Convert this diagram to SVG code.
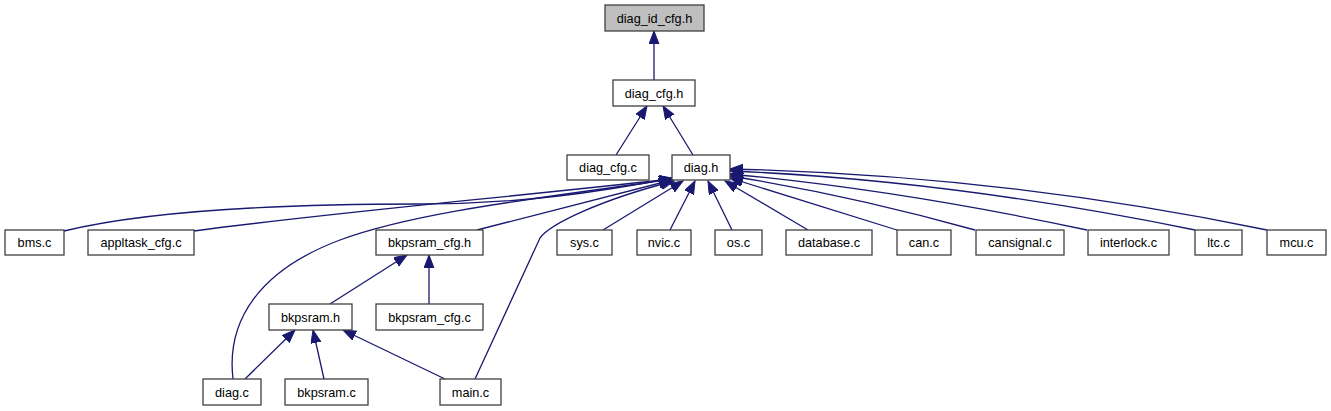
<svg xmlns="http://www.w3.org/2000/svg" width="1331" height="411" viewBox="0 0 1331 411">
<style>
.node rect{fill:#ffffff;stroke:#404040;stroke-width:1.3}
.node.root rect{fill:#bfbfbf}
.node text{font-family:"Liberation Sans",Arial,sans-serif;font-size:12.7px;fill:#000000;text-anchor:middle}
.edges path{fill:none;stroke:#191970;stroke-width:1.3;marker-end:url(#ah)}
</style>
<defs>
<marker id="ah" markerUnits="userSpaceOnUse" markerWidth="14" markerHeight="11" refX="13" refY="5" orient="auto">
<path d="M0,0 L13,5 L0,10 z" fill="#191970" stroke="#191970" stroke-width="1"/>
</marker>
</defs>
<rect width="1331" height="411" fill="#ffffff"/>
<g class="edges" id="edges">
<path d="M654,80 L654,31"/>
<path d="M616,155 L647,106"/>
<path d="M693,155 L663,106"/>
<path d="M64,231 C150,210 280,204 420,204 C520,204 600,192 672,178"/>
<path d="M194,231 C320,214 480,200 672,179"/>
<path d="M477,230 L672,180"/>
<path d="M233,379 C226,320 260,270 340,240 C420,210 560,196 672,179"/>
<path d="M475,379 L540,238 C550,224 600,200 674,181"/>
<path d="M603,230 L683,181"/>
<path d="M670,230 L695,181"/>
<path d="M732,230 L708,181"/>
<path d="M808,230 L725,181"/>
<path d="M897,230 L730,178"/>
<path d="M975,230 Q850,195 730,176"/>
<path d="M1087,230 Q900,190 730,174"/>
<path d="M1195,230 Q950,180 730,171"/>
<path d="M1267,230 Q1000,175 730,169"/>
<path d="M330,304 L407,255"/>
<path d="M429,304 L429,255"/>
<path d="M245,379 L295,330"/>
<path d="M324,379 L313,330"/>
<path d="M445,379 L343,330"/>
</g>
<g class="node root" id="diag_id_cfg_h"><rect x="605" y="5" width="99" height="26"/><text x="654.5" y="22.5">diag_id_cfg.h</text></g>
<g class="node" id="diag_cfg_h"><rect x="613" y="80" width="82" height="26"/><text x="654" y="97.5">diag_cfg.h</text></g>
<g class="node" id="diag_cfg_c"><rect x="567" y="155" width="82" height="25"/><text x="608" y="172">diag_cfg.c</text></g>
<g class="node" id="diag_h"><rect x="672" y="155" width="58" height="25"/><text x="701" y="172">diag.h</text></g>
<g class="node" id="bms_c"><rect x="5" y="230" width="59" height="25"/><text x="34.5" y="247">bms.c</text></g>
<g class="node" id="appltask_cfg_c"><rect x="88" y="230" width="106" height="25"/><text x="141" y="247">appltask_cfg.c</text></g>
<g class="node" id="bkpsram_cfg_h"><rect x="376" y="230" width="107" height="25"/><text x="429.5" y="247">bkpsram_cfg.h</text></g>
<g class="node" id="sys_c"><rect x="557" y="230" width="55" height="25"/><text x="584.5" y="247">sys.c</text></g>
<g class="node" id="nvic_c"><rect x="637" y="230" width="54" height="25"/><text x="664" y="247">nvic.c</text></g>
<g class="node" id="os_c"><rect x="715" y="230" width="47" height="25"/><text x="738.5" y="247">os.c</text></g>
<g class="node" id="database_c"><rect x="786" y="230" width="86" height="25"/><text x="829" y="247">database.c</text></g>
<g class="node" id="can_c"><rect x="897" y="230" width="54" height="25"/><text x="924" y="247">can.c</text></g>
<g class="node" id="cansignal_c"><rect x="976" y="230" width="88" height="25"/><text x="1020" y="247">cansignal.c</text></g>
<g class="node" id="interlock_c"><rect x="1088" y="230" width="81" height="25"/><text x="1128.5" y="247">interlock.c</text></g>
<g class="node" id="ltc_c"><rect x="1195" y="230" width="47" height="25"/><text x="1218.5" y="247">ltc.c</text></g>
<g class="node" id="mcu_c"><rect x="1267" y="230" width="59" height="25"/><text x="1296.5" y="247">mcu.c</text></g>
<g class="node" id="bkpsram_h"><rect x="269" y="304" width="83" height="26"/><text x="310.5" y="321.5">bkpsram.h</text></g>
<g class="node" id="bkpsram_cfg_c"><rect x="376" y="304" width="107" height="26"/><text x="429.5" y="321.5">bkpsram_cfg.c</text></g>
<g class="node" id="diag_c"><rect x="203" y="379" width="58" height="26"/><text x="232" y="396.5">diag.c</text></g>
<g class="node" id="bkpsram_c"><rect x="285" y="379" width="83" height="26"/><text x="326.5" y="396.5">bkpsram.c</text></g>
<g class="node" id="main_c"><rect x="440" y="379" width="61" height="26"/><text x="470.5" y="396.5">main.c</text></g>
</svg>
